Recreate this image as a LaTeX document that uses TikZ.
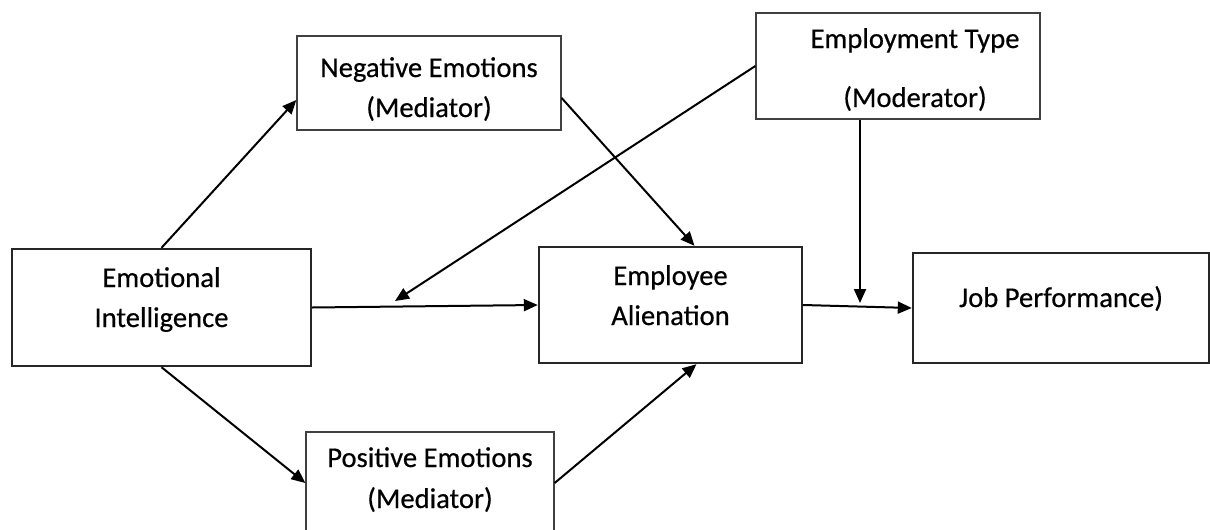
\documentclass[tikz,border=0pt]{standalone}
\usepackage{fontspec}
\setmainfont{Carlito}
\usetikzlibrary{arrows.meta}
\begin{document}
\begin{tikzpicture}[x=1pt,y=-1pt,
  thickbox/.style={draw=black!85,line width=2.4pt,inner sep=0pt},
  thinbox/.style={draw=black!75,line width=1.3pt,inner sep=0pt},
  lbl/.style={anchor=base,inner sep=0pt,font=\fontsize{28.6pt}{40pt}\selectfont\addfontfeatures{FakeBold=0.5}},
  conn/.style={line width=2pt,-{Triangle[length=14pt,width=12pt]}},
]
\useasboundingbox (0,0) rectangle (1210,530);
\clip (0,0) rectangle (1210,530);
% boxes
\node[thickbox,minimum width=299pt,minimum height=117pt] (ei) at (161.5,307.5) {};
\node[thinbox,minimum width=264pt,minimum height=94pt] (ne) at (429,83) {};
\node[thinbox,minimum width=284pt,minimum height=106pt] (et) at (898,66) {};
\node[thickbox,minimum width=263pt,minimum height=116pt] (ea) at (670.5,305) {};
\node[thickbox,minimum width=296pt,minimum height=110pt] (jp) at (1061,308) {};
\node[thinbox,minimum width=248pt,minimum height=138pt] (pe) at (430,501) {};
% texts
\node[lbl] (ei1) at (161.5,287) {Emotional};
\node[lbl] (ei2) at (161.5,327) {Intelligence};
\node[lbl] (ne1) at (429,77) {Negative Emotions};
\node[lbl] (ne2) at (429,117) {(Mediator)};
\node[lbl] (et1) at (915,48) {Employment Type};
\node[lbl] (et2) at (915,107) {(Moderator)};
\node[lbl] (ea1) at (670.5,285) {Employee};
\node[lbl] (ea2) at (670.5,325) {Alienation};
\node[lbl] (jp1) at (1061,307) {Job Performance)};
\node[lbl] (pe1) at (430,467) {Positive Emotions};
\node[lbl] (pe2) at (430,508) {(Mediator)};
% connectors
\draw[conn] (ei.north) -- ([yshift=-17pt]ne.west);
\draw[conn] (ei.south) -- ([yshift=18pt]pe.west);
\draw[conn] ([yshift=-15pt]ne.east) -- ([xshift=24pt]ea.north);
\draw[conn] ([yshift=18pt]pe.east) -- ([xshift=26pt]ea.south);
\draw[conn] (ei.east) -- (ea.west);
\coordinate (m1) at (395,301);
\draw[conn] (et.west) -- (m1);
\draw[conn] (ea.east) -- (jp.west);
\coordinate (m2) at (860,303);
\draw[conn] (m2 |- et.south) -- (m2);
\end{tikzpicture}
\end{document}
